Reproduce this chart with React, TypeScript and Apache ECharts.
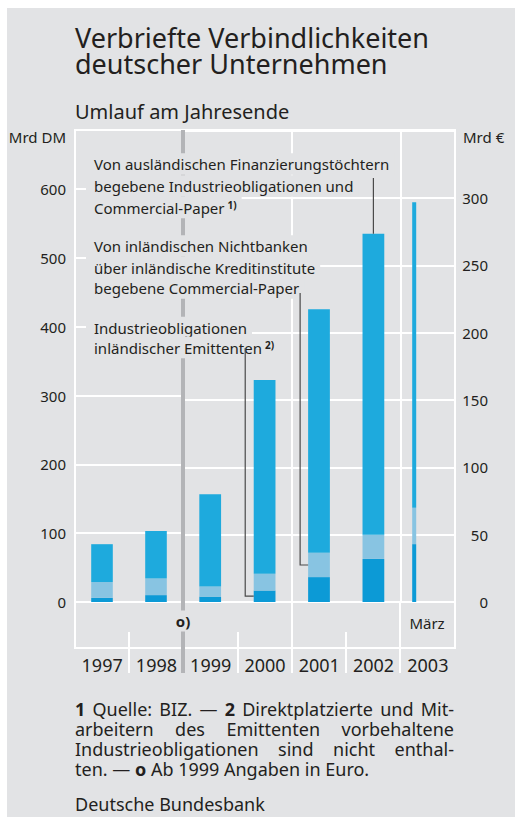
import React, { useEffect, useRef } from 'react';
import * as echarts from 'echarts';

// ---------- data ----------
const years = ['1997', '1998', '1999', '2000', '2001', '2002', '2003'];
// 1997–1998 in Mrd DM
const industrieDM = [6, 10];
const commercialPaperDM = [23, 24];
const auslandDM = [55, 69];
// 1999–2002 in Mrd Euro
const industrieEUR = [4, 8.6, 18.5, 32];
const commercialPaperEUR = [7.5, 12.4, 18, 18];
const auslandEUR = [68.6, 144, 181, 223.5];
// 2003, end of March, Mrd Euro
const maerzIndustrie = [43];
const maerzCommercialPaper = [27];
const maerzAusland = [227];
const maerzMonth = 3;

const dmTickMax = 600;
const eurTickMax = 300;
const DM_PER_EUR = 1.95583;

// ---------- styles ----------
const FONT = '"Noto Sans", sans-serif';
const PANEL = '#e2e3e5';
const TEXT = '#231f20';
const COLORS = ['#0c9ad6', '#88c4e2', '#1eaadd'];

const measure = (() => {
  const c = document.createElement('canvas').getContext('2d')!;
  return (t: string, size: number, bold = false) => {
    c.font = `${bold ? 'bold ' : ''}${size}px "Noto Sans"`;
    return c.measureText(t).width;
  };
})();

function stackItem(widthFn: (api: any) => number) {
  return (params: any, api: any) => {
    const x = api.value(0);
    const w = widthFn(api);
    let cum = 0;
    const children: any[] = [];
    for (let k = 0; k < 3; k++) {
      const v = api.value(k + 1);
      const p0 = api.coord([x, cum]);
      const p1 = api.coord([x, cum + v]);
      children.push({
        type: 'rect',
        shape: { x: p0[0] - w / 2, y: p1[1], width: w, height: p0[1] - p1[1] },
        style: { fill: COLORS[k] },
      });
      cum += v;
    }
    return { type: 'group', children };
  };
}

export default function App() {
  const ref = useRef<HTMLDivElement>(null);
  useEffect(() => {
    const chart = echarts.init(ref.current!, null, { renderer: 'svg' });
    const gridTop = 130;
    const gridH = 472;
    const dmMax = 685.8;
    const eurMax = dmMax / DM_PER_EUR;

    const dmData = industrieDM.map((v, i) => [i + 0.5, v, commercialPaperDM[i], auslandDM[i]]);
    const eurData = industrieEUR.map((v, i) => [i + 2 + 0.5, v, commercialPaperEUR[i], auslandEUR[i]]);
    const mData = maerzIndustrie.map((v, i) => [6 + maerzMonth / 12, v, maerzCommercialPaper[i], maerzAusland[i]]);

    const labelStyle = { color: TEXT, fontSize: 15, fontFamily: FONT };
    const split = { show: true, lineStyle: { color: '#ffffff', width: 2 } };

    chart.setOption({
      animation: false,
      backgroundColor: 'transparent',
      grid: [
        { left: 75, top: gridTop, width: 108, height: gridH, show: true, borderColor: '#fff', borderWidth: 2, backgroundColor: 'transparent' },
        { left: 183, top: gridTop, width: 272, height: gridH, show: true, borderColor: '#fff', borderWidth: 2, backgroundColor: 'transparent' },
        { left: 75, top: gridTop + gridH, width: 380, height: 46, show: true, borderColor: '#fff', borderWidth: 2, backgroundColor: 'transparent' },
      ],
      xAxis: [
        { gridIndex: 0, type: 'value', min: 0, max: 2, show: false },
        {
          gridIndex: 1, type: 'value', min: 2, max: 7, interval: 2,
          axisLine: { show: false }, axisTick: { show: false }, axisLabel: { show: false }, splitLine: split,
        },
        {
          gridIndex: 2, type: 'category', data: years,
          axisLine: { show: false }, axisTick: { show: false }, splitLine: { show: false },
          axisLabel: { margin: 8, color: TEXT, fontSize: 18, fontFamily: FONT },
        },
      ],
      yAxis: [
        {
          gridIndex: 0, type: 'value', min: 0, max: dmMax, interval: 100, position: 'left',
          axisLine: { show: false }, axisTick: { show: false }, splitLine: split,
          axisLabel: { ...labelStyle, margin: 9, formatter: (v: number) => (v <= dmTickMax ? String(Math.round(v)) : '') },
        },
        {
          gridIndex: 1, type: 'value', min: 0, max: eurMax, interval: 50, position: 'right',
          axisLine: { show: false }, axisTick: { show: false }, splitLine: split,
          axisLabel: { ...labelStyle, margin: 33, align: 'right', formatter: (v: number) => (v <= eurTickMax ? String(Math.round(v)) : '') },
        },
        { gridIndex: 2, type: 'value', show: false },
      ],
      series: [
        { type: 'custom', xAxisIndex: 0, yAxisIndex: 0, data: dmData, encode: { x: 0, y: 1 }, renderItem: stackItem((api) => api.size([0.4, 0])[0]) },
        { type: 'custom', xAxisIndex: 1, yAxisIndex: 1, data: eurData, encode: { x: 0, y: 1 }, renderItem: stackItem((api) => api.size([0.4, 0])[0]) },
        { type: 'custom', xAxisIndex: 1, yAxisIndex: 1, data: mData, encode: { x: 0, y: 1 }, renderItem: stackItem(() => 4) },
      ],
    });

    const toPx = (x: number, y: number) => chart.convertToPixel({ xAxisIndex: 1, yAxisIndex: 1 }, [x, y]) as number[];
    const halfW = (toPx(2.4, 0)[0] - toPx(2, 0)[0]) / 2;

    // leader lines
    const c2000 = toPx(3.5, industrieEUR[1] / 2);
    const c2001 = toPx(4.5, industrieEUR[2] + commercialPaperEUR[2] / 2);
    const c2002 = toPx(5.5, industrieEUR[3] + commercialPaperEUR[3] + auslandEUR[3]);
    const leader = (pts: number[][]) => ({
      type: 'polyline', z: 30, shape: { points: pts }, style: { stroke: '#4a4a4a', lineWidth: 1.2, fill: null },
    });

    const txt = (text: string, x: number, y: number, size: number, opts: any = {}) => ({
      type: 'text', x, y, z: opts.z ?? 20,
      style: {
        text, fill: TEXT, fontSize: size, fontFamily: FONT, fontWeight: opts.bold ? 'bold' : 'normal',
        align: opts.align || 'left', verticalAlign: 'middle', lineHeight: opts.lh,
        backgroundColor: opts.bg, padding: opts.pad, rich: opts.rich,
      },
    });
    const annot = (text: string, y: number, rich?: any) =>
      txt(text, 86, y, 15, { bg: PANEL, pad: [3, 5, 2.5, 8], lh: 16, rich });
    const supRich = {
      s: { fontSize: 10, fontWeight: 'bold', fontFamily: FONT, fill: TEXT, verticalAlign: 'top', lineHeight: 16, padding: [0, 0, 0, 3] },
    };

    // justified footnote lines
    const FN = 18;
    const justify = (words: { t: string; b?: boolean }[], y: number) => {
      const L = 75, R = 454;
      const widths = words.map((w) => measure(w.t, FN, !!w.b));
      const total = widths.reduce((a, b) => a + b, 0);
      const gap = (R - L - total) / (words.length - 1);
      let x = L;
      return words.map((w, i) => {
        const el = txt(w.t, x, y, FN, { bold: w.b, lh: 18 });
        x += widths[i] + gap;
        return el;
      });
    };

    const white = { stroke: '#ffffff', lineWidth: 2 };
    const vline = (x: number, y1: number, y2: number, style: any = white, z = 10) => ({
      type: 'line', z, shape: { x1: x, y1, x2: x, y2 }, style,
    });

    const bottomY = gridTop + gridH;
    chart.setOption({
      graphic: [
        // break line DM | Euro
        vline(183, gridTop, 673, { stroke: '#b3b4b7', lineWidth: 4 }, 10),
        vline(129, 632, 673), vline(238, 632, 673), vline(346, 632, 673),
        vline(292, bottomY, 673), vline(400, bottomY, 673),
        // titles
        txt('Verbriefte Verbindlichkeiten', 75, 37, 27, { lh: 24 }),
        txt('deutscher Unternehmen', 75, 63, 27, { lh: 24 }),
        txt('Umlauf am Jahresende', 75, 111, 20),
        txt('Mrd DM', 66, 137, 15, { align: 'right' }),
        txt('Mrd €', 463, 137, 15),
        // annotations
        annot('Von ausländischen Finanzierungstöchtern', 164),
        annot('begebene Industrieobligationen und', 186),
        annot('Commercial-Paper{s|1)}', 207.5, supRich),
        annot('Von inländischen Nichtbanken', 246),
        annot('über inländische Kreditinstitute', 267.5),
        annot('begebene Commercial-Paper', 288),
        annot('Industrieobligationen', 327.5),
        annot('inländischer Emittenten{s|2)}', 347.5, supRich),
        leader([[c2002[0], 178], [c2002[0], c2002[1]]]),
        leader([[c2001[0] - halfW - 8, 293], [c2001[0] - halfW - 8, c2001[1]], [c2001[0] - halfW, c2001[1]]]),
        leader([[c2000[0] - halfW - 8.5, 348], [c2000[0] - halfW - 8.5, c2000[1]], [c2000[0] - halfW, c2000[1]]]),
        txt('o)', 183, 621, 15, { bold: true, align: 'center', bg: PANEL, pad: [3, 1, 3, 1] }),
        txt('März', 427, 623, 15, { align: 'center' }),
        // footnotes
        ...justify([{ t: '1', b: true }, { t: 'Quelle:' }, { t: 'BIZ.' }, { t: '—' }, { t: '2', b: true }, { t: 'Direktplatzierte' }, { t: 'und' }, { t: 'Mit-' }], 709),
        ...justify([{ t: 'arbeitern' }, { t: 'des' }, { t: 'Emittenten' }, { t: 'vorbehaltene' }], 729),
        ...justify([{ t: 'Industrieobligationen' }, { t: 'sind' }, { t: 'nicht' }, { t: 'enthal-' }], 749),
        txt('ten. — {b|o} Ab 1999 Angaben in Euro.', 75, 769, FN, {
          lh: 18,
          rich: { b: { fontWeight: 'bold', fontSize: FN, fontFamily: FONT, fill: TEXT, lineHeight: 18 } },
        }),
        txt('Deutsche Bundesbank', 75, 804, FN, { lh: 18 }),
      ],
    });

    return () => chart.dispose();
  }, []);

  return (
    <div style={{ position: 'fixed', left: 0, top: 0, width: 515, height: 819, background: '#ffffff' }}>
      <div style={{ position: 'absolute', left: 7, top: 8, width: 508, height: 809, background: PANEL }} />
      <div ref={ref} style={{ position: 'absolute', left: 0, top: 0, width: 515, height: 819 }} />
    </div>
  );
}
